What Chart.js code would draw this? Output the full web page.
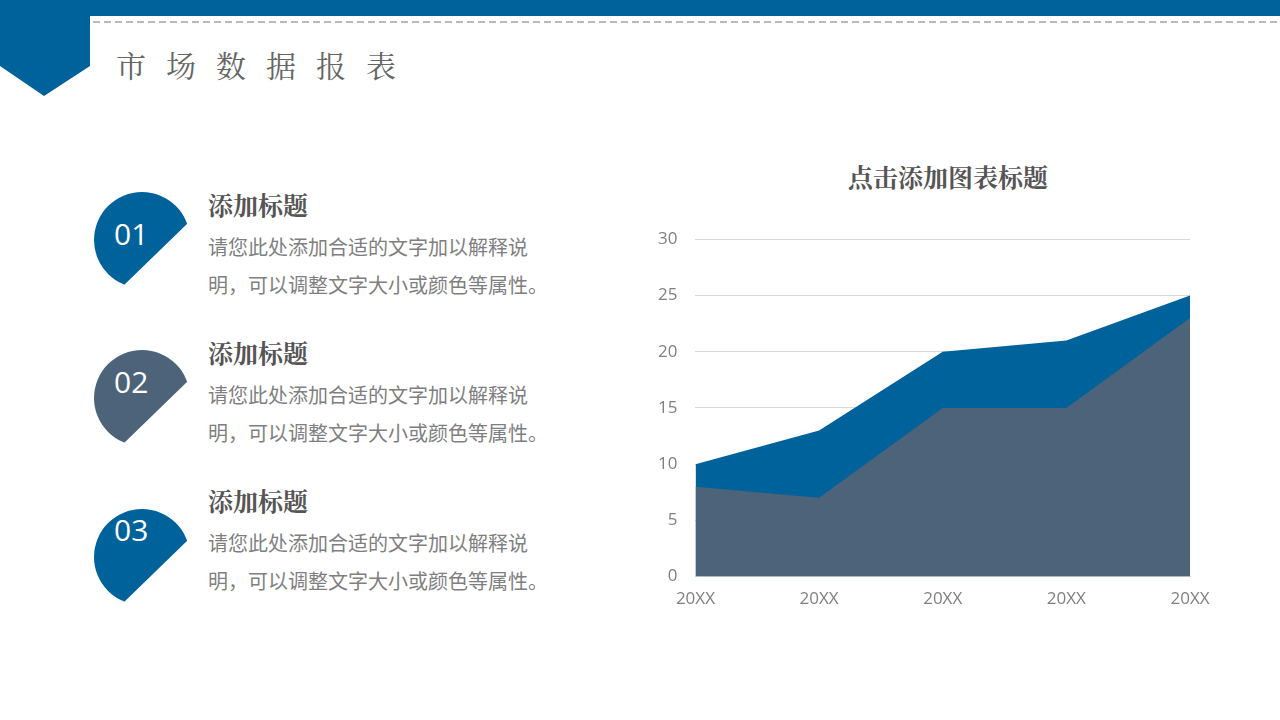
<!DOCTYPE html>
<html><head><meta charset="utf-8">
<script src="https://cdn.jsdelivr.net/npm/chart.js@4/dist/chart.umd.min.js"></script>
<style>
body{margin:0;width:1280px;height:720px;background:#fff;position:relative;overflow:hidden;font-family:"Noto Sans CJK SC","Noto Sans",sans-serif;}
.abs{position:absolute}
.h{font-size:25px;font-weight:bold;color:#555;font-family:"Noto Serif CJK SC","Noto Sans CJK SC",serif}
.p{font-size:20px;color:#7f7f7f;line-height:38px}
</style></head><body>
<div class="abs" style="left:0;top:0;width:1280px;height:16px;background:#00629a"></div>
<svg class="abs" style="left:0;top:0" width="1280" height="100">
<polygon points="0,0 90,0 90,66 44,96 0,66" fill="#00629a"/>
<line x1="93" y1="22" x2="1280" y2="22" stroke="#777" stroke-dasharray="7,4" stroke-width="1"/>
</svg>
<div class="abs" style="left:116px;top:42px;font-size:30px;color:#666;letter-spacing:20px;font-family:'Noto Serif CJK SC','Noto Sans CJK SC',serif">市场数据报表</div>
<svg class="abs" style="left:0;top:0" width="640" height="720">
<defs><clipPath id="c"><polygon points="0,0 640,0 640,0 189,222 121,288 0,400"/></clipPath></defs>
<g clip-path="url(#c)"><circle cx="142" cy="240" r="48" fill="#00629a"/></g>
<g clip-path="url(#c)" transform="translate(0,158)"><circle cx="142" cy="240" r="48" fill="#4c6379"/></g>
<g clip-path="url(#c)" transform="translate(0,317)"><circle cx="142" cy="240" r="48" fill="#00629a"/></g>
</svg>
<div class="abs h" style="left:640px;top:158px;width:616px;text-align:center">点击添加图表标题</div>
<div class="abs" style="left:640px;top:211px;width:590px;height:402px"><canvas id="ch"></canvas></div>
<script>
const nums=['01','02','03'];
const heading='添加标题';
const body='请您此处添加合适的文字加以解释说明，可以调整文字大小或颜色等属性。';
const tops=[186,334,482];
nums.forEach((n,i)=>{
 const b=document.createElement('div');b.className='abs';
 b.style.cssText=`left:114px;top:${tops[i]+27}px;font-size:30px;color:#fff;font-family:'Open Sans',sans-serif`;
 b.textContent=n;document.body.appendChild(b);
 const h=document.createElement('div');h.className='abs h';h.style.cssText=`left:208px;top:${tops[i]}px`;h.textContent=heading;document.body.appendChild(h);
 const p=document.createElement('div');p.className='abs p';p.style.cssText=`left:208px;top:${tops[i]+42}px;width:345px`;p.textContent=body;document.body.appendChild(p);
});
const categories=['20XX','20XX','20XX','20XX','20XX'];
const seriesA=[8,7,15,15,23];
const seriesB=[10,13,20,21,25];
const yTicks=[0,5,10,15,20,25,30];
new Chart(document.getElementById('ch'),{type:'line',
data:{labels:categories,datasets:[
{data:seriesA,fill:'origin',backgroundColor:'#4c6379',borderWidth:0,pointRadius:0,tension:0},
{data:seriesB,fill:'origin',backgroundColor:'#00629a',borderWidth:0,pointRadius:0,tension:0}]},
options:{responsive:true,maintainAspectRatio:false,animation:false,
layout:{padding:{left:0,right:40,top:10,bottom:0}},
plugins:{legend:{display:false},tooltip:{enabled:false}},
scales:{x:{offset:false,grid:{display:false},border:{color:'#d9d9d9'},ticks:{color:'#7f7f7f',font:{size:17,family:'Open Sans'},padding:4}},
 y:{min:0,max:30,afterBuildTicks:a=>{a.ticks=yTicks.map(v=>({value:v}))},grid:{color:'#d9d9d9',drawTicks:false},border:{display:false},
  ticks:{color:'#7f7f7f',font:{size:17,family:'Open Sans'},padding:18}}}}});
</script>
</body></html>
